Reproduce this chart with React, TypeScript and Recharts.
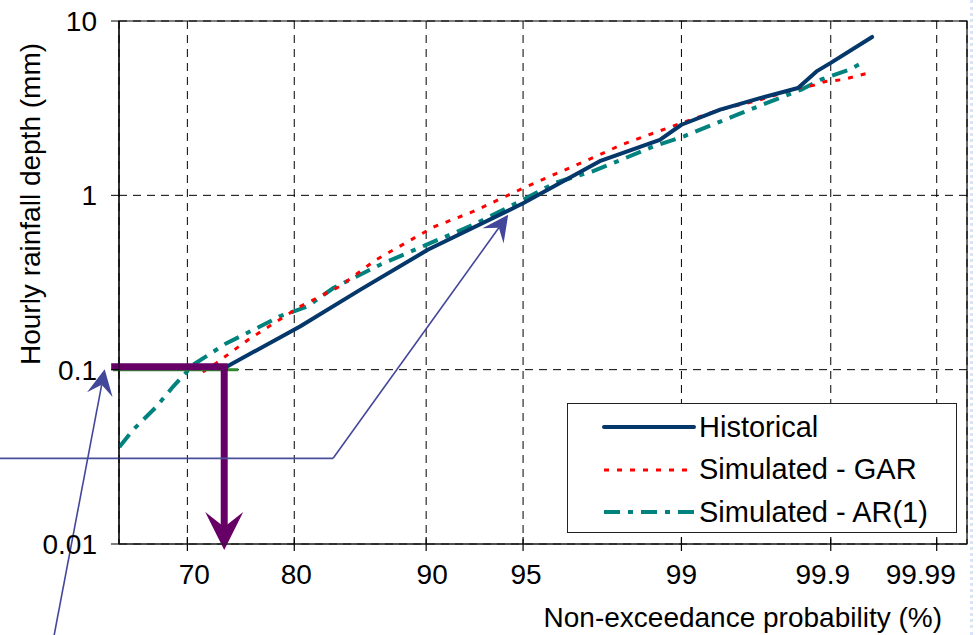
import React from 'react';
import {
  LineChart,
  Line,
  XAxis,
  YAxis,
  CartesianGrid,
  ReferenceLine,
  ReferenceArea,
  Legend,
} from 'recharts';

const FONT = '"Liberation Sans", Arial, sans-serif';

// x axis: non-exceedance probability (%), y axis: hourly rainfall depth (mm)
const probTicks = [70, 80, 90, 95, 99, 99.9, 99.99];
const probTickLabels = ['70', '80', '90', '95', '99', '99.9', '99.99'];
const depthTicks = [0.01, 0.1, 1, 10];

const historicalProb = [73.8, 80.5, 85.4, 90.1, 95.0, 97.5, 98.7, 99.0, 99.4, 99.67, 99.82, 99.87, 99.9, 99.956];
const historicalDepth = [0.104, 0.177, 0.287, 0.487, 0.9, 1.57, 2.08, 2.54, 3.1, 3.62, 4.13, 5.14, 5.75, 8.1];

const garProb = [71.5, 72.8, 75.8, 80.5, 83.8, 86.6, 90.45, 92.7, 95.15, 97.4, 98.0, 98.98, 99.4, 99.67, 99.82, 99.86, 99.89, 99.92, 99.95];
const garDepth = [0.097, 0.109, 0.148, 0.23, 0.3, 0.427, 0.658, 0.808, 1.125, 1.67, 1.95, 2.58, 3.1, 3.54, 4.13, 4.26, 4.5, 4.61, 4.99];

const ar1Prob = [63.25, 64.6, 66.9, 68.6, 70.6, 73.8, 76.3, 78.7, 81.1, 83.3, 86.9, 90.0, 92.7, 95.0, 96.2, 97.3, 98.0, 98.6, 99.03, 99.53, 99.7, 99.83, 99.88, 99.93, 99.944];
const ar1Depth = [0.036, 0.045, 0.061, 0.08, 0.107, 0.142, 0.169, 0.202, 0.23, 0.294, 0.4, 0.52, 0.678, 0.943, 1.18, 1.37, 1.6, 1.91, 2.18, 2.9, 3.39, 4.04, 4.61, 5.26, 5.69];

// annotation points (probability %, depth mm)
const markerProbStart = 62.78;
const markerProbCorner = 73.57;
const markerDepth = 0.104;
const markerArrowDepth = 0.00924;
const calloutA = [[50, 0.031], [83.28, 0.031], [94.37, 0.774]];
const calloutB = [[56.53, 0.00254], [61.78, 0.1007]];

// Weibull-type probability paper: position is log(-ln(1 - p))
const toV = (p: number) => -Math.log(1 - p / 100);

const build = (probs: number[], depths: number[]) =>
  probs.map((p, i) => ({ v: toV(p), depth: depths[i] }));

const historical = build(historicalProb, historicalDepth);
const gar = build(garProb, garDepth);
const ar1 = build(ar1Prob, ar1Depth);

const xTicks = probTicks.map(toV);
const labelNudge = [7, 2, 6, 3, 0, -8, -16];

const series = [
  { name: 'Historical', color: '#04386b', width: 4, dash: undefined },
  { name: 'Simulated - GAR', color: '#ff0000', width: 3, dash: '5 8' },
  { name: 'Simulated - AR(1)', color: '#00827f', width: 4, dash: '16 8 5 8' },
];

const XTick = (props: any) => {
  const { x, y, payload } = props;
  const axisY = y - 20;
  const i = payload.index;
  return (
    <g>
      <line x1={x} x2={x} y1={axisY - 7} y2={axisY + 7} stroke="#000" strokeWidth={1.2} />
      <text x={x + (labelNudge[i] || 0)} y={axisY + 40} textAnchor="middle" fontSize={28} fontFamily={FONT} fill="#000">
        {probTickLabels[i]}
      </text>
    </g>
  );
};

const arrow = (color: string, width: number, headLen: number, half: number, notch: number) => (props: any) => {
  const { x1, y1, x2, y2 } = props;
  const dx = x2 - x1;
  const dy = y2 - y1;
  const len = Math.hypot(dx, dy) || 1;
  const ux = dx / len;
  const uy = dy / len;
  const px = -uy;
  const py = ux;
  const bx = x2 - ux * headLen;
  const by = y2 - uy * headLen;
  const nx = x2 - ux * notch;
  const ny = y2 - uy * notch;
  const pts = `${x2},${y2} ${bx + px * half},${by + py * half} ${nx},${ny} ${bx - px * half},${by - py * half}`;
  return (
    <g>
      <line x1={x1} y1={y1} x2={nx} y2={ny} stroke={color} strokeWidth={width} />
      <polygon points={pts} fill={color} />
    </g>
  );
};

const LegendBox = () => (
  <div
    style={{
      width: 390,
      height: 130,
      boxSizing: 'border-box',
      border: '1px solid #222',
      background: '#fff',
      position: 'relative',
      fontFamily: FONT,
    }}
  >
    {series.map((s, i) => (
      <div
        key={s.name}
        style={{ position: 'absolute', left: 0, top: 2 + i * 42.5, height: 42, display: 'flex', alignItems: 'center' }}
      >
        <svg width={131} height={42}>
          <line
            x1={36}
            x2={126}
            y1={21}
            y2={21}
            stroke={s.color}
            strokeWidth={s.width}
            strokeDasharray={s.dash}
            strokeLinecap={s.dash ? 'butt' : 'round'}
          />
        </svg>
        <span style={{ fontSize: 29, color: '#000', whiteSpace: 'nowrap' }}>{s.name}</span>
      </div>
    ))}
  </div>
);

const yTitle = () => (
  <text x={40} y={204} transform="rotate(-90 40 204)" textAnchor="middle" fontSize={28} fontFamily={FONT} fill="#000">
    Hourly rainfall depth (mm)
  </text>
);

const xTitle = () => (
  <text x={942} y={627} textAnchor="end" fontSize={28} fontFamily={FONT} fill="#000">
    Non-exceedance probability (%)
  </text>
);

export default function App() {
  return (
    <div style={{ position: 'absolute', left: 0, top: 0, width: 976, height: 635, background: '#fff' }}>
      <div style={{ position: 'absolute', left: 970, top: 0, height: 635, borderLeft: '3px dotted #dbe3f7' }} />
      <LineChart width={976} height={635} margin={{ top: 21, right: 9, bottom: 0, left: 0 }}>
        <CartesianGrid stroke="#000" strokeDasharray="8 6" />
        <XAxis
          type="number"
          dataKey="v"
          scale="log"
          domain={[1, 10]}
          ticks={xTicks}
          interval={0}
          allowDataOverflow
          height={91}
          axisLine={{ stroke: '#222' }}
          tickLine={false}
          tickSize={7}
          tickMargin={13}
          tick={<XTick />}
          label={xTitle}
        />
        <YAxis
          type="number"
          scale="log"
          domain={[0.01, 10]}
          ticks={depthTicks}
          interval={0}
          allowDataOverflow
          width={119}
          axisLine={{ stroke: '#000' }}
          tickLine={{ stroke: '#000' }}
          tickSize={8}
          tickMargin={14}
          tick={{ fontSize: 28, fill: '#000', fontFamily: FONT }}
          tickFormatter={(d: number) => String(d)}
          label={yTitle}
        />
        <ReferenceArea x1={1} x2={10} y1={0.01} y2={10} fill="none" stroke="#000" strokeWidth={1.2} ifOverflow="visible" />
        <Line
          data={ar1}
          dataKey="depth"
          type="linear"
          stroke={series[2].color}
          strokeWidth={series[2].width}
          strokeDasharray={series[2].dash}
          dot={false}
          isAnimationActive={false}
        />
        <Line
          data={gar}
          dataKey="depth"
          type="linear"
          stroke={series[1].color}
          strokeWidth={series[1].width}
          strokeDasharray={series[1].dash}
          dot={false}
          isAnimationActive={false}
        />
        <Line
          data={historical}
          dataKey="depth"
          type="linear"
          stroke={series[0].color}
          strokeWidth={series[0].width}
          strokeLinecap="round"
          strokeLinejoin="round"
          dot={false}
          isAnimationActive={false}
        />
        <ReferenceLine
          segment={[{ x: toV(62.6), y: 0.1 }, { x: toV(74.9), y: 0.1 }]}
          stroke="#2e8b2e"
          strokeWidth={3}
          ifOverflow="visible"
        />
        <ReferenceLine
          segment={[{ x: toV(markerProbStart), y: markerDepth }, { x: toV(markerProbCorner), y: markerDepth }]}
          stroke="#660066"
          strokeWidth={7}
          strokeLinecap="square"
          ifOverflow="visible"
        />
        <ReferenceLine
          segment={[{ x: toV(markerProbCorner), y: markerDepth }, { x: toV(markerProbCorner), y: markerArrowDepth }]}
          ifOverflow="visible"
          shape={arrow('#660066', 7, 38, 19, 23)}
        />
        <ReferenceLine
          segment={[{ x: toV(calloutA[0][0]), y: calloutA[0][1] }, { x: toV(calloutA[1][0]), y: calloutA[1][1] }]}
          stroke="#4a4f9c"
          strokeWidth={1.6}
          ifOverflow="visible"
        />
        <ReferenceLine
          segment={[{ x: toV(calloutA[1][0]), y: calloutA[1][1] }, { x: toV(calloutA[2][0]), y: calloutA[2][1] }]}
          ifOverflow="visible"
          shape={arrow('#43479a', 1.6, 26, 13, 16)}
        />
        <ReferenceLine
          segment={[{ x: toV(calloutB[0][0]), y: calloutB[0][1] }, { x: toV(calloutB[1][0]), y: calloutB[1][1] }]}
          ifOverflow="visible"
          shape={arrow('#43479a', 1.6, 26, 13, 16)}
        />
        <Legend
          layout="vertical"
          align="center"
          verticalAlign="middle"
          wrapperStyle={{ left: 567, top: 403, width: 390, height: 130 }}
          content={LegendBox}
        />
      </LineChart>
    </div>
  );
}
